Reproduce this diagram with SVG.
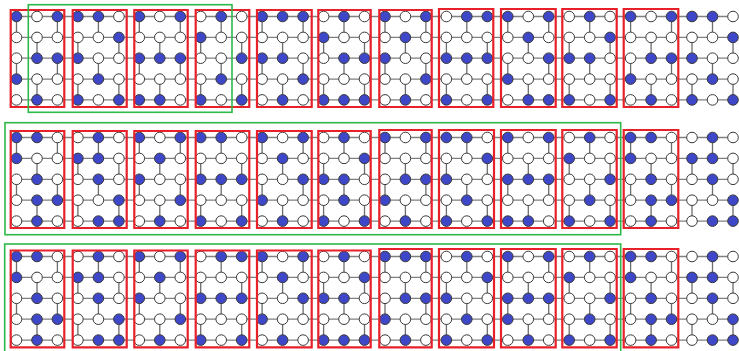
<svg xmlns="http://www.w3.org/2000/svg" width="739" height="351" viewBox="0 0 739 351">
<style>
circle{r:5.3px;fill:#fff;stroke:#3a3a3a;stroke-width:1}
circle.b{fill:#3f47c9}
.h{stroke:#808080;stroke-width:1.3;fill:none}
.v{stroke:#6e6e6e;stroke-width:1.3;fill:none}
.red{fill:none;stroke:#e8202a;stroke-width:2.2}
.grn{fill:none;stroke:#2db84a;stroke-width:1.6}
</style>
<rect width="739" height="351" fill="#fff"/>
<g id="connectors">
<path class="h" d="M16.5 16.5H733M16.5 37.4H733M16.5 58.2H733M16.5 79.1H733M16.5 99.9H733M16.5 137.5H733M16.5 158.4H733M16.5 179.3H733M16.5 200.2H733M16.5 221.1H733M16.5 256.5H733M16.5 277.4H733M16.5 298.3H733M16.5 319.2H733M16.5 340.1H733"/>
<path class="v" d="M16.5 16.5v20.9m0 20.8v20.9M57.4 16.5v20.9m0 20.8v20.9M98.4 16.5v20.9m0 20.8v20.9M139.3 16.5v20.9m0 20.8v20.9M180.3 16.5v20.9m0 20.8v20.9M221.2 16.5v20.9m0 20.8v20.9M262.1 16.5v20.9m0 20.8v20.9M303.1 16.5v20.9m0 20.8v20.9M344 16.5v20.9m0 20.8v20.9M385 16.5v20.9m0 20.8v20.9M425.9 16.5v20.9m0 20.8v20.9M466.8 16.5v20.9m0 20.8v20.9M507.8 16.5v20.9m0 20.8v20.9M548.7 16.5v20.9m0 20.8v20.9M589.7 16.5v20.9m0 20.8v20.9M630.6 16.5v20.9m0 20.8v20.9M671.5 16.5v20.9m0 20.8v20.9M712.5 16.5v20.9m0 20.8v20.9"/>
<path class="v" d="M37 37.4v20.8m0 20.9v20.8M77.9 37.4v20.8m0 20.9v20.8M118.9 37.4v20.8m0 20.9v20.8M159.8 37.4v20.8m0 20.9v20.8M200.7 37.4v20.8m0 20.9v20.8M241.7 37.4v20.8m0 20.9v20.8M282.6 37.4v20.8m0 20.9v20.8M323.6 37.4v20.8m0 20.9v20.8M364.5 37.4v20.8m0 20.9v20.8M405.4 37.4v20.8m0 20.9v20.8M446.4 37.4v20.8m0 20.9v20.8M487.3 37.4v20.8m0 20.9v20.8M528.3 37.4v20.8m0 20.9v20.8M569.2 37.4v20.8m0 20.9v20.8M610.1 37.4v20.8m0 20.9v20.8M651.1 37.4v20.8m0 20.9v20.8M692 37.4v20.8m0 20.9v20.8M733 37.4v20.8m0 20.9v20.8"/>
<path class="v" d="M16.5 137.5v20.9m0 20.9v20.9M57.4 137.5v20.9m0 20.9v20.9M98.4 137.5v20.9m0 20.9v20.9M139.3 137.5v20.9m0 20.9v20.9M180.3 137.5v20.9m0 20.9v20.9M221.2 137.5v20.9m0 20.9v20.9M262.1 137.5v20.9m0 20.9v20.9M303.1 137.5v20.9m0 20.9v20.9M344 137.5v20.9m0 20.9v20.9M385 137.5v20.9m0 20.9v20.9M425.9 137.5v20.9m0 20.9v20.9M466.8 137.5v20.9m0 20.9v20.9M507.8 137.5v20.9m0 20.9v20.9M548.7 137.5v20.9m0 20.9v20.9M589.7 137.5v20.9m0 20.9v20.9M630.6 137.5v20.9m0 20.9v20.9M671.5 137.5v20.9m0 20.9v20.9M712.5 137.5v20.9m0 20.9v20.9"/>
<path class="v" d="M37 158.4v20.9m0 20.9v20.9M77.9 158.4v20.9m0 20.9v20.9M118.9 158.4v20.9m0 20.9v20.9M159.8 158.4v20.9m0 20.9v20.9M200.7 158.4v20.9m0 20.9v20.9M241.7 158.4v20.9m0 20.9v20.9M282.6 158.4v20.9m0 20.9v20.9M323.6 158.4v20.9m0 20.9v20.9M364.5 158.4v20.9m0 20.9v20.9M405.4 158.4v20.9m0 20.9v20.9M446.4 158.4v20.9m0 20.9v20.9M487.3 158.4v20.9m0 20.9v20.9M528.3 158.4v20.9m0 20.9v20.9M569.2 158.4v20.9m0 20.9v20.9M610.1 158.4v20.9m0 20.9v20.9M651.1 158.4v20.9m0 20.9v20.9M692 158.4v20.9m0 20.9v20.9M733 158.4v20.9m0 20.9v20.9"/>
<path class="v" d="M16.5 256.5v20.9m0 20.9v20.9M57.4 256.5v20.9m0 20.9v20.9M98.4 256.5v20.9m0 20.9v20.9M139.3 256.5v20.9m0 20.9v20.9M180.3 256.5v20.9m0 20.9v20.9M221.2 256.5v20.9m0 20.9v20.9M262.1 256.5v20.9m0 20.9v20.9M303.1 256.5v20.9m0 20.9v20.9M344 256.5v20.9m0 20.9v20.9M385 256.5v20.9m0 20.9v20.9M425.9 256.5v20.9m0 20.9v20.9M466.8 256.5v20.9m0 20.9v20.9M507.8 256.5v20.9m0 20.9v20.9M548.7 256.5v20.9m0 20.9v20.9M589.7 256.5v20.9m0 20.9v20.9M630.6 256.5v20.9m0 20.9v20.9M671.5 256.5v20.9m0 20.9v20.9M712.5 256.5v20.9m0 20.9v20.9"/>
<path class="v" d="M37 277.4v20.9m0 20.9v20.9M77.9 277.4v20.9m0 20.9v20.9M118.9 277.4v20.9m0 20.9v20.9M159.8 277.4v20.9m0 20.9v20.9M200.7 277.4v20.9m0 20.9v20.9M241.7 277.4v20.9m0 20.9v20.9M282.6 277.4v20.9m0 20.9v20.9M323.6 277.4v20.9m0 20.9v20.9M364.5 277.4v20.9m0 20.9v20.9M405.4 277.4v20.9m0 20.9v20.9M446.4 277.4v20.9m0 20.9v20.9M487.3 277.4v20.9m0 20.9v20.9M528.3 277.4v20.9m0 20.9v20.9M569.2 277.4v20.9m0 20.9v20.9M610.1 277.4v20.9m0 20.9v20.9M651.1 277.4v20.9m0 20.9v20.9M692 277.4v20.9m0 20.9v20.9M733 277.4v20.9m0 20.9v20.9"/>
</g>
<g id="band1">
<g transform="translate(0 16.5)">
<g id="n1-0-0"><circle cx="16.5" class="b"/></g><g id="n1-0-1"><circle cx="37"/></g><g id="n1-0-2"><circle cx="57.4" class="b"/></g><g id="n1-0-3"><circle cx="77.9" class="b"/></g><g id="n1-0-4"><circle cx="98.4" class="b"/></g><g id="n1-0-5"><circle cx="118.9"/></g><g id="n1-0-6"><circle cx="139.3" class="b"/></g><g id="n1-0-7"><circle cx="159.8"/></g><g id="n1-0-8"><circle cx="180.3" class="b"/></g>
<g id="n1-0-9"><circle cx="200.7"/></g><g id="n1-0-10"><circle cx="221.2" class="b"/></g><g id="n1-0-11"><circle cx="241.7"/></g><g id="n1-0-12"><circle cx="262.1" class="b"/></g><g id="n1-0-13"><circle cx="282.6" class="b"/></g><g id="n1-0-14"><circle cx="303.1" class="b"/></g><g id="n1-0-15"><circle cx="323.6"/></g><g id="n1-0-16"><circle cx="344" class="b"/></g><g id="n1-0-17"><circle cx="364.5"/></g>
<g id="n1-0-18"><circle cx="385" class="b"/></g><g id="n1-0-19"><circle cx="405.4"/></g><g id="n1-0-20"><circle cx="425.9" class="b"/></g><g id="n1-0-21"><circle cx="446.4"/></g><g id="n1-0-22"><circle cx="466.8" class="b"/></g><g id="n1-0-23"><circle cx="487.3" class="b"/></g><g id="n1-0-24"><circle cx="507.8" class="b"/></g><g id="n1-0-25"><circle cx="528.3"/></g><g id="n1-0-26"><circle cx="548.7" class="b"/></g>
<g id="n1-0-27"><circle cx="569.2"/></g><g id="n1-0-28"><circle cx="589.7" class="b"/></g><g id="n1-0-29"><circle cx="610.1"/></g><g id="n1-0-30"><circle cx="630.6" class="b"/></g><g id="n1-0-31"><circle cx="651.1"/></g><g id="n1-0-32"><circle cx="671.5" class="b"/></g><g id="n1-0-33"><circle cx="692" class="b"/></g><g id="n1-0-34"><circle cx="712.5" class="b"/></g><g id="n1-0-35"><circle cx="733"/></g>
</g>
<g transform="translate(0 37.4)">
<g id="n1-1-0"><circle cx="16.5"/></g><g id="n1-1-1"><circle cx="37"/></g><g id="n1-1-2"><circle cx="57.4"/></g><g id="n1-1-3"><circle cx="77.9"/></g><g id="n1-1-4"><circle cx="98.4"/></g><g id="n1-1-5"><circle cx="118.9" class="b"/></g><g id="n1-1-6"><circle cx="139.3"/></g><g id="n1-1-7"><circle cx="159.8"/></g><g id="n1-1-8"><circle cx="180.3"/></g>
<g id="n1-1-9"><circle cx="200.7" class="b"/></g><g id="n1-1-10"><circle cx="221.2"/></g><g id="n1-1-11"><circle cx="241.7"/></g><g id="n1-1-12"><circle cx="262.1"/></g><g id="n1-1-13"><circle cx="282.6"/></g><g id="n1-1-14"><circle cx="303.1"/></g><g id="n1-1-15"><circle cx="323.6" class="b"/></g><g id="n1-1-16"><circle cx="344"/></g><g id="n1-1-17"><circle cx="364.5"/></g>
<g id="n1-1-18"><circle cx="385"/></g><g id="n1-1-19"><circle cx="405.4" class="b"/></g><g id="n1-1-20"><circle cx="425.9"/></g><g id="n1-1-21"><circle cx="446.4"/></g><g id="n1-1-22"><circle cx="466.8"/></g><g id="n1-1-23"><circle cx="487.3"/></g><g id="n1-1-24"><circle cx="507.8"/></g><g id="n1-1-25"><circle cx="528.3" class="b"/></g><g id="n1-1-26"><circle cx="548.7"/></g>
<g id="n1-1-27"><circle cx="569.2"/></g><g id="n1-1-28"><circle cx="589.7"/></g><g id="n1-1-29"><circle cx="610.1" class="b"/></g><g id="n1-1-30"><circle cx="630.6"/></g><g id="n1-1-31"><circle cx="651.1"/></g><g id="n1-1-32"><circle cx="671.5"/></g><g id="n1-1-33"><circle cx="692"/></g><g id="n1-1-34"><circle cx="712.5"/></g><g id="n1-1-35"><circle cx="733" class="b"/></g>
</g>
<g transform="translate(0 58.2)">
<g id="n1-2-0"><circle cx="16.5"/></g><g id="n1-2-1"><circle cx="37" class="b"/></g><g id="n1-2-2"><circle cx="57.4" class="b"/></g><g id="n1-2-3"><circle cx="77.9" class="b"/></g><g id="n1-2-4"><circle cx="98.4"/></g><g id="n1-2-5"><circle cx="118.9"/></g><g id="n1-2-6"><circle cx="139.3" class="b"/></g><g id="n1-2-7"><circle cx="159.8" class="b"/></g><g id="n1-2-8"><circle cx="180.3" class="b"/></g>
<g id="n1-2-9"><circle cx="200.7"/></g><g id="n1-2-10"><circle cx="221.2"/></g><g id="n1-2-11"><circle cx="241.7" class="b"/></g><g id="n1-2-12"><circle cx="262.1" class="b"/></g><g id="n1-2-13"><circle cx="282.6" class="b"/></g><g id="n1-2-14"><circle cx="303.1"/></g><g id="n1-2-15"><circle cx="323.6"/></g><g id="n1-2-16"><circle cx="344" class="b"/></g><g id="n1-2-17"><circle cx="364.5" class="b"/></g>
<g id="n1-2-18"><circle cx="385" class="b"/></g><g id="n1-2-19"><circle cx="405.4"/></g><g id="n1-2-20"><circle cx="425.9"/></g><g id="n1-2-21"><circle cx="446.4" class="b"/></g><g id="n1-2-22"><circle cx="466.8" class="b"/></g><g id="n1-2-23"><circle cx="487.3" class="b"/></g><g id="n1-2-24"><circle cx="507.8"/></g><g id="n1-2-25"><circle cx="528.3"/></g><g id="n1-2-26"><circle cx="548.7" class="b"/></g>
<g id="n1-2-27"><circle cx="569.2" class="b"/></g><g id="n1-2-28"><circle cx="589.7" class="b"/></g><g id="n1-2-29"><circle cx="610.1"/></g><g id="n1-2-30"><circle cx="630.6"/></g><g id="n1-2-31"><circle cx="651.1" class="b"/></g><g id="n1-2-32"><circle cx="671.5" class="b"/></g><g id="n1-2-33"><circle cx="692" class="b"/></g><g id="n1-2-34"><circle cx="712.5"/></g><g id="n1-2-35"><circle cx="733"/></g>
</g>
<g transform="translate(0 79.1)">
<g id="n1-3-0"><circle cx="16.5" class="b"/></g><g id="n1-3-1"><circle cx="37"/></g><g id="n1-3-2"><circle cx="57.4"/></g><g id="n1-3-3"><circle cx="77.9"/></g><g id="n1-3-4"><circle cx="98.4" class="b"/></g><g id="n1-3-5"><circle cx="118.9"/></g><g id="n1-3-6"><circle cx="139.3"/></g><g id="n1-3-7"><circle cx="159.8"/></g><g id="n1-3-8"><circle cx="180.3"/></g>
<g id="n1-3-9"><circle cx="200.7"/></g><g id="n1-3-10"><circle cx="221.2" class="b"/></g><g id="n1-3-11"><circle cx="241.7"/></g><g id="n1-3-12"><circle cx="262.1"/></g><g id="n1-3-13"><circle cx="282.6"/></g><g id="n1-3-14"><circle cx="303.1" class="b"/></g><g id="n1-3-15"><circle cx="323.6"/></g><g id="n1-3-16"><circle cx="344"/></g><g id="n1-3-17"><circle cx="364.5"/></g>
<g id="n1-3-18"><circle cx="385"/></g><g id="n1-3-19"><circle cx="405.4"/></g><g id="n1-3-20"><circle cx="425.9" class="b"/></g><g id="n1-3-21"><circle cx="446.4"/></g><g id="n1-3-22"><circle cx="466.8"/></g><g id="n1-3-23"><circle cx="487.3"/></g><g id="n1-3-24"><circle cx="507.8" class="b"/></g><g id="n1-3-25"><circle cx="528.3"/></g><g id="n1-3-26"><circle cx="548.7"/></g>
<g id="n1-3-27"><circle cx="569.2"/></g><g id="n1-3-28"><circle cx="589.7"/></g><g id="n1-3-29"><circle cx="610.1"/></g><g id="n1-3-30"><circle cx="630.6" class="b"/></g><g id="n1-3-31"><circle cx="651.1"/></g><g id="n1-3-32"><circle cx="671.5"/></g><g id="n1-3-33"><circle cx="692"/></g><g id="n1-3-34"><circle cx="712.5" class="b"/></g><g id="n1-3-35"><circle cx="733"/></g>
</g>
<g transform="translate(0 99.9)">
<g id="n1-4-0"><circle cx="16.5"/></g><g id="n1-4-1"><circle cx="37" class="b"/></g><g id="n1-4-2"><circle cx="57.4"/></g><g id="n1-4-3"><circle cx="77.9" class="b"/></g><g id="n1-4-4"><circle cx="98.4"/></g><g id="n1-4-5"><circle cx="118.9" class="b"/></g><g id="n1-4-6"><circle cx="139.3" class="b"/></g><g id="n1-4-7"><circle cx="159.8" class="b"/></g><g id="n1-4-8"><circle cx="180.3"/></g>
<g id="n1-4-9"><circle cx="200.7" class="b"/></g><g id="n1-4-10"><circle cx="221.2"/></g><g id="n1-4-11"><circle cx="241.7" class="b"/></g><g id="n1-4-12"><circle cx="262.1"/></g><g id="n1-4-13"><circle cx="282.6" class="b"/></g><g id="n1-4-14"><circle cx="303.1"/></g><g id="n1-4-15"><circle cx="323.6" class="b"/></g><g id="n1-4-16"><circle cx="344" class="b"/></g><g id="n1-4-17"><circle cx="364.5" class="b"/></g>
<g id="n1-4-18"><circle cx="385"/></g><g id="n1-4-19"><circle cx="405.4" class="b"/></g><g id="n1-4-20"><circle cx="425.9"/></g><g id="n1-4-21"><circle cx="446.4" class="b"/></g><g id="n1-4-22"><circle cx="466.8"/></g><g id="n1-4-23"><circle cx="487.3" class="b"/></g><g id="n1-4-24"><circle cx="507.8"/></g><g id="n1-4-25"><circle cx="528.3" class="b"/></g><g id="n1-4-26"><circle cx="548.7" class="b"/></g>
<g id="n1-4-27"><circle cx="569.2" class="b"/></g><g id="n1-4-28"><circle cx="589.7"/></g><g id="n1-4-29"><circle cx="610.1" class="b"/></g><g id="n1-4-30"><circle cx="630.6"/></g><g id="n1-4-31"><circle cx="651.1" class="b"/></g><g id="n1-4-32"><circle cx="671.5"/></g><g id="n1-4-33"><circle cx="692" class="b"/></g><g id="n1-4-34"><circle cx="712.5"/></g><g id="n1-4-35"><circle cx="733" class="b"/></g>
</g>
</g>
<g id="band2">
<g transform="translate(0 137.5)">
<g id="n2-0-0"><circle cx="16.5" class="b"/></g><g id="n2-0-1"><circle cx="37" class="b"/></g><g id="n2-0-2"><circle cx="57.4"/></g><g id="n2-0-3"><circle cx="77.9"/></g><g id="n2-0-4"><circle cx="98.4" class="b"/></g><g id="n2-0-5"><circle cx="118.9"/></g><g id="n2-0-6"><circle cx="139.3" class="b"/></g><g id="n2-0-7"><circle cx="159.8"/></g><g id="n2-0-8"><circle cx="180.3" class="b"/></g>
<g id="n2-0-9"><circle cx="200.7" class="b"/></g><g id="n2-0-10"><circle cx="221.2" class="b"/></g><g id="n2-0-11"><circle cx="241.7"/></g><g id="n2-0-12"><circle cx="262.1" class="b"/></g><g id="n2-0-13"><circle cx="282.6"/></g><g id="n2-0-14"><circle cx="303.1" class="b"/></g><g id="n2-0-15"><circle cx="323.6"/></g><g id="n2-0-16"><circle cx="344" class="b"/></g><g id="n2-0-17"><circle cx="364.5"/></g>
<g id="n2-0-18"><circle cx="385" class="b"/></g><g id="n2-0-19"><circle cx="405.4"/></g><g id="n2-0-20"><circle cx="425.9" class="b"/></g><g id="n2-0-21"><circle cx="446.4" class="b"/></g><g id="n2-0-22"><circle cx="466.8" class="b"/></g><g id="n2-0-23"><circle cx="487.3"/></g><g id="n2-0-24"><circle cx="507.8" class="b"/></g><g id="n2-0-25"><circle cx="528.3"/></g><g id="n2-0-26"><circle cx="548.7" class="b"/></g>
<g id="n2-0-27"><circle cx="569.2"/></g><g id="n2-0-28"><circle cx="589.7" class="b"/></g><g id="n2-0-29"><circle cx="610.1"/></g><g id="n2-0-30"><circle cx="630.6" class="b"/></g><g id="n2-0-31"><circle cx="651.1" class="b"/></g><g id="n2-0-32"><circle cx="671.5"/></g><g id="n2-0-33"><circle cx="692"/></g><g id="n2-0-34"><circle cx="712.5" class="b"/></g><g id="n2-0-35"><circle cx="733"/></g>
</g>
<g transform="translate(0 158.4)">
<g id="n2-1-0"><circle cx="16.5" class="b"/></g><g id="n2-1-1"><circle cx="37"/></g><g id="n2-1-2"><circle cx="57.4"/></g><g id="n2-1-3"><circle cx="77.9" class="b"/></g><g id="n2-1-4"><circle cx="98.4" class="b"/></g><g id="n2-1-5"><circle cx="118.9"/></g><g id="n2-1-6"><circle cx="139.3"/></g><g id="n2-1-7"><circle cx="159.8" class="b"/></g><g id="n2-1-8"><circle cx="180.3"/></g>
<g id="n2-1-9"><circle cx="200.7"/></g><g id="n2-1-10"><circle cx="221.2"/></g><g id="n2-1-11"><circle cx="241.7"/></g><g id="n2-1-12"><circle cx="262.1"/></g><g id="n2-1-13"><circle cx="282.6" class="b"/></g><g id="n2-1-14"><circle cx="303.1"/></g><g id="n2-1-15"><circle cx="323.6"/></g><g id="n2-1-16"><circle cx="344"/></g><g id="n2-1-17"><circle cx="364.5" class="b"/></g>
<g id="n2-1-18"><circle cx="385"/></g><g id="n2-1-19"><circle cx="405.4"/></g><g id="n2-1-20"><circle cx="425.9"/></g><g id="n2-1-21"><circle cx="446.4"/></g><g id="n2-1-22"><circle cx="466.8"/></g><g id="n2-1-23"><circle cx="487.3" class="b"/></g><g id="n2-1-24"><circle cx="507.8"/></g><g id="n2-1-25"><circle cx="528.3"/></g><g id="n2-1-26"><circle cx="548.7"/></g>
<g id="n2-1-27"><circle cx="569.2" class="b"/></g><g id="n2-1-28"><circle cx="589.7"/></g><g id="n2-1-29"><circle cx="610.1"/></g><g id="n2-1-30"><circle cx="630.6" class="b"/></g><g id="n2-1-31"><circle cx="651.1"/></g><g id="n2-1-32"><circle cx="671.5"/></g><g id="n2-1-33"><circle cx="692" class="b"/></g><g id="n2-1-34"><circle cx="712.5" class="b"/></g><g id="n2-1-35"><circle cx="733"/></g>
</g>
<g transform="translate(0 179.3)">
<g id="n2-2-0"><circle cx="16.5"/></g><g id="n2-2-1"><circle cx="37" class="b"/></g><g id="n2-2-2"><circle cx="57.4"/></g><g id="n2-2-3"><circle cx="77.9"/></g><g id="n2-2-4"><circle cx="98.4" class="b"/></g><g id="n2-2-5"><circle cx="118.9"/></g><g id="n2-2-6"><circle cx="139.3" class="b"/></g><g id="n2-2-7"><circle cx="159.8"/></g><g id="n2-2-8"><circle cx="180.3"/></g>
<g id="n2-2-9"><circle cx="200.7" class="b"/></g><g id="n2-2-10"><circle cx="221.2" class="b"/></g><g id="n2-2-11"><circle cx="241.7" class="b"/></g><g id="n2-2-12"><circle cx="262.1"/></g><g id="n2-2-13"><circle cx="282.6"/></g><g id="n2-2-14"><circle cx="303.1" class="b"/></g><g id="n2-2-15"><circle cx="323.6" class="b"/></g><g id="n2-2-16"><circle cx="344" class="b"/></g><g id="n2-2-17"><circle cx="364.5"/></g>
<g id="n2-2-18"><circle cx="385"/></g><g id="n2-2-19"><circle cx="405.4" class="b"/></g><g id="n2-2-20"><circle cx="425.9" class="b"/></g><g id="n2-2-21"><circle cx="446.4" class="b"/></g><g id="n2-2-22"><circle cx="466.8"/></g><g id="n2-2-23"><circle cx="487.3"/></g><g id="n2-2-24"><circle cx="507.8" class="b"/></g><g id="n2-2-25"><circle cx="528.3" class="b"/></g><g id="n2-2-26"><circle cx="548.7" class="b"/></g>
<g id="n2-2-27"><circle cx="569.2"/></g><g id="n2-2-28"><circle cx="589.7"/></g><g id="n2-2-29"><circle cx="610.1" class="b"/></g><g id="n2-2-30"><circle cx="630.6"/></g><g id="n2-2-31"><circle cx="651.1" class="b"/></g><g id="n2-2-32"><circle cx="671.5"/></g><g id="n2-2-33"><circle cx="692"/></g><g id="n2-2-34"><circle cx="712.5" class="b"/></g><g id="n2-2-35"><circle cx="733"/></g>
</g>
<g transform="translate(0 200.2)">
<g id="n2-3-0"><circle cx="16.5"/></g><g id="n2-3-1"><circle cx="37" class="b"/></g><g id="n2-3-2"><circle cx="57.4" class="b"/></g><g id="n2-3-3"><circle cx="77.9"/></g><g id="n2-3-4"><circle cx="98.4"/></g><g id="n2-3-5"><circle cx="118.9" class="b"/></g><g id="n2-3-6"><circle cx="139.3"/></g><g id="n2-3-7"><circle cx="159.8"/></g><g id="n2-3-8"><circle cx="180.3" class="b"/></g>
<g id="n2-3-9"><circle cx="200.7"/></g><g id="n2-3-10"><circle cx="221.2"/></g><g id="n2-3-11"><circle cx="241.7"/></g><g id="n2-3-12"><circle cx="262.1" class="b"/></g><g id="n2-3-13"><circle cx="282.6"/></g><g id="n2-3-14"><circle cx="303.1"/></g><g id="n2-3-15"><circle cx="323.6"/></g><g id="n2-3-16"><circle cx="344" class="b"/></g><g id="n2-3-17"><circle cx="364.5"/></g>
<g id="n2-3-18"><circle cx="385" class="b"/></g><g id="n2-3-19"><circle cx="405.4"/></g><g id="n2-3-20"><circle cx="425.9"/></g><g id="n2-3-21"><circle cx="446.4"/></g><g id="n2-3-22"><circle cx="466.8" class="b"/></g><g id="n2-3-23"><circle cx="487.3"/></g><g id="n2-3-24"><circle cx="507.8"/></g><g id="n2-3-25"><circle cx="528.3"/></g><g id="n2-3-26"><circle cx="548.7"/></g>
<g id="n2-3-27"><circle cx="569.2"/></g><g id="n2-3-28"><circle cx="589.7" class="b"/></g><g id="n2-3-29"><circle cx="610.1"/></g><g id="n2-3-30"><circle cx="630.6"/></g><g id="n2-3-31"><circle cx="651.1" class="b"/></g><g id="n2-3-32"><circle cx="671.5" class="b"/></g><g id="n2-3-33"><circle cx="692"/></g><g id="n2-3-34"><circle cx="712.5"/></g><g id="n2-3-35"><circle cx="733" class="b"/></g>
</g>
<g transform="translate(0 221.1)">
<g id="n2-4-0"><circle cx="16.5"/></g><g id="n2-4-1"><circle cx="37" class="b"/></g><g id="n2-4-2"><circle cx="57.4"/></g><g id="n2-4-3"><circle cx="77.9"/></g><g id="n2-4-4"><circle cx="98.4" class="b"/></g><g id="n2-4-5"><circle cx="118.9" class="b"/></g><g id="n2-4-6"><circle cx="139.3"/></g><g id="n2-4-7"><circle cx="159.8" class="b"/></g><g id="n2-4-8"><circle cx="180.3"/></g>
<g id="n2-4-9"><circle cx="200.7" class="b"/></g><g id="n2-4-10"><circle cx="221.2"/></g><g id="n2-4-11"><circle cx="241.7" class="b"/></g><g id="n2-4-12"><circle cx="262.1"/></g><g id="n2-4-13"><circle cx="282.6" class="b"/></g><g id="n2-4-14"><circle cx="303.1"/></g><g id="n2-4-15"><circle cx="323.6" class="b"/></g><g id="n2-4-16"><circle cx="344"/></g><g id="n2-4-17"><circle cx="364.5" class="b"/></g>
<g id="n2-4-18"><circle cx="385"/></g><g id="n2-4-19"><circle cx="405.4" class="b"/></g><g id="n2-4-20"><circle cx="425.9"/></g><g id="n2-4-21"><circle cx="446.4" class="b"/></g><g id="n2-4-22"><circle cx="466.8"/></g><g id="n2-4-23"><circle cx="487.3" class="b"/></g><g id="n2-4-24"><circle cx="507.8" class="b"/></g><g id="n2-4-25"><circle cx="528.3" class="b"/></g><g id="n2-4-26"><circle cx="548.7"/></g>
<g id="n2-4-27"><circle cx="569.2" class="b"/></g><g id="n2-4-28"><circle cx="589.7"/></g><g id="n2-4-29"><circle cx="610.1" class="b"/></g><g id="n2-4-30"><circle cx="630.6"/></g><g id="n2-4-31"><circle cx="651.1" class="b"/></g><g id="n2-4-32"><circle cx="671.5"/></g><g id="n2-4-33"><circle cx="692"/></g><g id="n2-4-34"><circle cx="712.5" class="b"/></g><g id="n2-4-35"><circle cx="733" class="b"/></g>
</g>
</g>
<g id="band3">
<g transform="translate(0 256.5)">
<g id="n3-0-0"><circle cx="16.5" class="b"/></g><g id="n3-0-1"><circle cx="37" class="b"/></g><g id="n3-0-2"><circle cx="57.4"/></g><g id="n3-0-3"><circle cx="77.9"/></g><g id="n3-0-4"><circle cx="98.4" class="b"/></g><g id="n3-0-5"><circle cx="118.9"/></g><g id="n3-0-6"><circle cx="139.3" class="b"/></g><g id="n3-0-7"><circle cx="159.8"/></g><g id="n3-0-8"><circle cx="180.3" class="b"/></g>
<g id="n3-0-9"><circle cx="200.7"/></g><g id="n3-0-10"><circle cx="221.2" class="b"/></g><g id="n3-0-11"><circle cx="241.7" class="b"/></g><g id="n3-0-12"><circle cx="262.1" class="b"/></g><g id="n3-0-13"><circle cx="282.6"/></g><g id="n3-0-14"><circle cx="303.1" class="b"/></g><g id="n3-0-15"><circle cx="323.6"/></g><g id="n3-0-16"><circle cx="344" class="b"/></g><g id="n3-0-17"><circle cx="364.5"/></g>
<g id="n3-0-18"><circle cx="385" class="b"/></g><g id="n3-0-19"><circle cx="405.4" class="b"/></g><g id="n3-0-20"><circle cx="425.9" class="b"/></g><g id="n3-0-21"><circle cx="446.4"/></g><g id="n3-0-22"><circle cx="466.8" class="b"/></g><g id="n3-0-23"><circle cx="487.3"/></g><g id="n3-0-24"><circle cx="507.8" class="b"/></g><g id="n3-0-25"><circle cx="528.3"/></g><g id="n3-0-26"><circle cx="548.7" class="b"/></g>
<g id="n3-0-27"><circle cx="569.2"/></g><g id="n3-0-28"><circle cx="589.7" class="b"/></g><g id="n3-0-29"><circle cx="610.1"/></g><g id="n3-0-30"><circle cx="630.6" class="b"/></g><g id="n3-0-31"><circle cx="651.1" class="b"/></g><g id="n3-0-32"><circle cx="671.5"/></g><g id="n3-0-33"><circle cx="692"/></g><g id="n3-0-34"><circle cx="712.5" class="b"/></g><g id="n3-0-35"><circle cx="733"/></g>
</g>
<g transform="translate(0 277.4)">
<g id="n3-1-0"><circle cx="16.5" class="b"/></g><g id="n3-1-1"><circle cx="37"/></g><g id="n3-1-2"><circle cx="57.4"/></g><g id="n3-1-3"><circle cx="77.9" class="b"/></g><g id="n3-1-4"><circle cx="98.4" class="b"/></g><g id="n3-1-5"><circle cx="118.9"/></g><g id="n3-1-6"><circle cx="139.3"/></g><g id="n3-1-7"><circle cx="159.8" class="b"/></g><g id="n3-1-8"><circle cx="180.3"/></g>
<g id="n3-1-9"><circle cx="200.7"/></g><g id="n3-1-10"><circle cx="221.2"/></g><g id="n3-1-11"><circle cx="241.7"/></g><g id="n3-1-12"><circle cx="262.1"/></g><g id="n3-1-13"><circle cx="282.6" class="b"/></g><g id="n3-1-14"><circle cx="303.1"/></g><g id="n3-1-15"><circle cx="323.6"/></g><g id="n3-1-16"><circle cx="344"/></g><g id="n3-1-17"><circle cx="364.5" class="b"/></g>
<g id="n3-1-18"><circle cx="385"/></g><g id="n3-1-19"><circle cx="405.4"/></g><g id="n3-1-20"><circle cx="425.9"/></g><g id="n3-1-21"><circle cx="446.4"/></g><g id="n3-1-22"><circle cx="466.8"/></g><g id="n3-1-23"><circle cx="487.3" class="b"/></g><g id="n3-1-24"><circle cx="507.8"/></g><g id="n3-1-25"><circle cx="528.3"/></g><g id="n3-1-26"><circle cx="548.7"/></g>
<g id="n3-1-27"><circle cx="569.2" class="b"/></g><g id="n3-1-28"><circle cx="589.7"/></g><g id="n3-1-29"><circle cx="610.1"/></g><g id="n3-1-30"><circle cx="630.6" class="b"/></g><g id="n3-1-31"><circle cx="651.1"/></g><g id="n3-1-32"><circle cx="671.5"/></g><g id="n3-1-33"><circle cx="692" class="b"/></g><g id="n3-1-34"><circle cx="712.5" class="b"/></g><g id="n3-1-35"><circle cx="733"/></g>
</g>
<g transform="translate(0 298.3)">
<g id="n3-2-0"><circle cx="16.5"/></g><g id="n3-2-1"><circle cx="37" class="b"/></g><g id="n3-2-2"><circle cx="57.4"/></g><g id="n3-2-3"><circle cx="77.9"/></g><g id="n3-2-4"><circle cx="98.4" class="b"/></g><g id="n3-2-5"><circle cx="118.9"/></g><g id="n3-2-6"><circle cx="139.3" class="b"/></g><g id="n3-2-7"><circle cx="159.8"/></g><g id="n3-2-8"><circle cx="180.3"/></g>
<g id="n3-2-9"><circle cx="200.7" class="b"/></g><g id="n3-2-10"><circle cx="221.2" class="b"/></g><g id="n3-2-11"><circle cx="241.7" class="b"/></g><g id="n3-2-12"><circle cx="262.1"/></g><g id="n3-2-13"><circle cx="282.6"/></g><g id="n3-2-14"><circle cx="303.1" class="b"/></g><g id="n3-2-15"><circle cx="323.6" class="b"/></g><g id="n3-2-16"><circle cx="344" class="b"/></g><g id="n3-2-17"><circle cx="364.5"/></g>
<g id="n3-2-18"><circle cx="385"/></g><g id="n3-2-19"><circle cx="405.4" class="b"/></g><g id="n3-2-20"><circle cx="425.9" class="b"/></g><g id="n3-2-21"><circle cx="446.4" class="b"/></g><g id="n3-2-22"><circle cx="466.8"/></g><g id="n3-2-23"><circle cx="487.3"/></g><g id="n3-2-24"><circle cx="507.8" class="b"/></g><g id="n3-2-25"><circle cx="528.3" class="b"/></g><g id="n3-2-26"><circle cx="548.7" class="b"/></g>
<g id="n3-2-27"><circle cx="569.2"/></g><g id="n3-2-28"><circle cx="589.7"/></g><g id="n3-2-29"><circle cx="610.1" class="b"/></g><g id="n3-2-30"><circle cx="630.6"/></g><g id="n3-2-31"><circle cx="651.1" class="b"/></g><g id="n3-2-32"><circle cx="671.5"/></g><g id="n3-2-33"><circle cx="692"/></g><g id="n3-2-34"><circle cx="712.5" class="b"/></g><g id="n3-2-35"><circle cx="733"/></g>
</g>
<g transform="translate(0 319.2)">
<g id="n3-3-0"><circle cx="16.5"/></g><g id="n3-3-1"><circle cx="37" class="b"/></g><g id="n3-3-2"><circle cx="57.4" class="b"/></g><g id="n3-3-3"><circle cx="77.9"/></g><g id="n3-3-4"><circle cx="98.4"/></g><g id="n3-3-5"><circle cx="118.9" class="b"/></g><g id="n3-3-6"><circle cx="139.3"/></g><g id="n3-3-7"><circle cx="159.8"/></g><g id="n3-3-8"><circle cx="180.3" class="b"/></g>
<g id="n3-3-9"><circle cx="200.7"/></g><g id="n3-3-10"><circle cx="221.2"/></g><g id="n3-3-11"><circle cx="241.7"/></g><g id="n3-3-12"><circle cx="262.1" class="b"/></g><g id="n3-3-13"><circle cx="282.6"/></g><g id="n3-3-14"><circle cx="303.1"/></g><g id="n3-3-15"><circle cx="323.6"/></g><g id="n3-3-16"><circle cx="344"/></g><g id="n3-3-17"><circle cx="364.5"/></g>
<g id="n3-3-18"><circle cx="385" class="b"/></g><g id="n3-3-19"><circle cx="405.4"/></g><g id="n3-3-20"><circle cx="425.9"/></g><g id="n3-3-21"><circle cx="446.4"/></g><g id="n3-3-22"><circle cx="466.8" class="b"/></g><g id="n3-3-23"><circle cx="487.3"/></g><g id="n3-3-24"><circle cx="507.8" class="b"/></g><g id="n3-3-25"><circle cx="528.3"/></g><g id="n3-3-26"><circle cx="548.7"/></g>
<g id="n3-3-27"><circle cx="569.2"/></g><g id="n3-3-28"><circle cx="589.7" class="b"/></g><g id="n3-3-29"><circle cx="610.1"/></g><g id="n3-3-30"><circle cx="630.6"/></g><g id="n3-3-31"><circle cx="651.1" class="b"/></g><g id="n3-3-32"><circle cx="671.5" class="b"/></g><g id="n3-3-33"><circle cx="692"/></g><g id="n3-3-34"><circle cx="712.5"/></g><g id="n3-3-35"><circle cx="733" class="b"/></g>
</g>
<g transform="translate(0 340.1)">
<g id="n3-4-0"><circle cx="16.5"/></g><g id="n3-4-1"><circle cx="37" class="b"/></g><g id="n3-4-2"><circle cx="57.4"/></g><g id="n3-4-3"><circle cx="77.9"/></g><g id="n3-4-4"><circle cx="98.4" class="b"/></g><g id="n3-4-5"><circle cx="118.9" class="b"/></g><g id="n3-4-6"><circle cx="139.3"/></g><g id="n3-4-7"><circle cx="159.8" class="b"/></g><g id="n3-4-8"><circle cx="180.3"/></g>
<g id="n3-4-9"><circle cx="200.7" class="b"/></g><g id="n3-4-10"><circle cx="221.2"/></g><g id="n3-4-11"><circle cx="241.7" class="b"/></g><g id="n3-4-12"><circle cx="262.1"/></g><g id="n3-4-13"><circle cx="282.6" class="b"/></g><g id="n3-4-14"><circle cx="303.1"/></g><g id="n3-4-15"><circle cx="323.6" class="b"/></g><g id="n3-4-16"><circle cx="344" class="b"/></g><g id="n3-4-17"><circle cx="364.5" class="b"/></g>
<g id="n3-4-18"><circle cx="385"/></g><g id="n3-4-19"><circle cx="405.4" class="b"/></g><g id="n3-4-20"><circle cx="425.9"/></g><g id="n3-4-21"><circle cx="446.4" class="b"/></g><g id="n3-4-22"><circle cx="466.8"/></g><g id="n3-4-23"><circle cx="487.3" class="b"/></g><g id="n3-4-24"><circle cx="507.8"/></g><g id="n3-4-25"><circle cx="528.3" class="b"/></g><g id="n3-4-26"><circle cx="548.7"/></g>
<g id="n3-4-27"><circle cx="569.2" class="b"/></g><g id="n3-4-28"><circle cx="589.7"/></g><g id="n3-4-29"><circle cx="610.1" class="b"/></g><g id="n3-4-30"><circle cx="630.6"/></g><g id="n3-4-31"><circle cx="651.1" class="b"/></g><g id="n3-4-32"><circle cx="671.5"/></g><g id="n3-4-33"><circle cx="692"/></g><g id="n3-4-34"><circle cx="712.5" class="b"/></g><g id="n3-4-35"><circle cx="733" class="b"/></g>
</g>
</g>
<g id="red-boxes">
<path class="red" d="M10.7 10H64.3V107H10.7ZM72.7 10H126.7V107H72.7ZM134.3 10H187.7V107H134.3ZM195.7 10H249.3V107H195.7ZM257 10H311.7V107H257ZM318.3 10H370.7V107H318.3ZM379.3 10H431.7V107H379.3ZM439 9H493.3V107H439ZM501 9H555.7V107H501ZM562.3 9H616.7V107H562.3ZM623.7 9H678.3V107H623.7Z"/>
<path class="red" d="M10.7 131H64.3V228H10.7ZM72.7 131H126.7V228H72.7ZM134.3 131H187.7V228H134.3ZM195.7 131H249.3V228H195.7ZM257 131H311.7V228H257ZM318.3 131H370.7V228H318.3ZM379.3 130H431.7V228H379.3ZM439 130H494V228H439ZM501 130H555.7V228H501ZM562.3 130H616.7V228H562.3ZM623.7 130H678.3V228H623.7Z"/>
<path class="red" d="M10.7 250.5H64.3V347.3H10.7ZM72.7 250.5H126.7V347.3H72.7ZM134.3 250.5H187.7V347.3H134.3ZM195.7 250.5H249.3V347.3H195.7ZM257 250.5H311.7V347.3H257ZM318.3 250.5H370.7V347.3H318.3ZM379.3 249H431.7V347.3H379.3ZM439 249H494V347.3H439ZM501 249H555.7V347.3H501ZM562.3 249H616.7V347.3H562.3ZM623.7 249H678.3V347.3H623.7Z"/>
</g>
<g id="green-boxes">
<rect class="grn" x="28.3" y="4.7" width="203.7" height="107.6"/>
<rect class="grn" x="5" y="122.7" width="615.7" height="112"/>
<rect class="grn" x="4.7" y="244" width="616" height="120"/>
</g>
</svg>
